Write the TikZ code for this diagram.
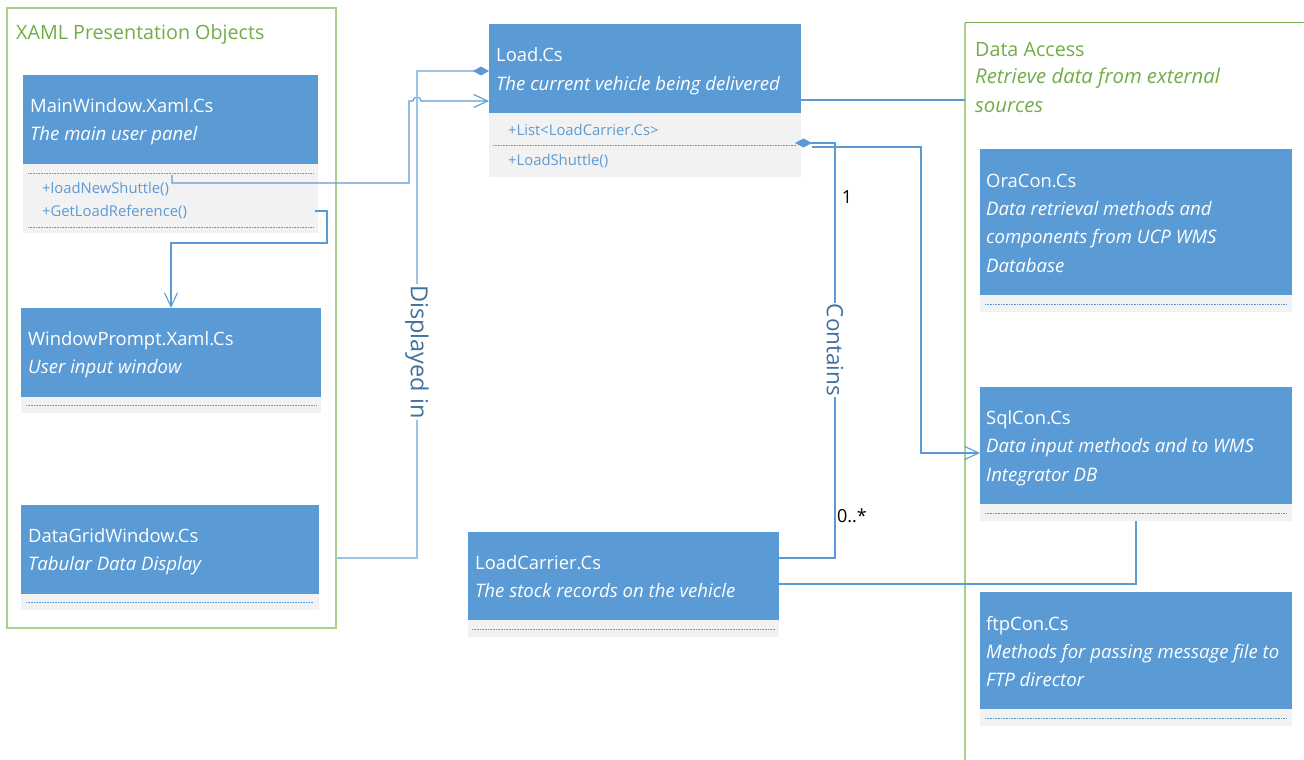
\documentclass[tikz,border=0pt]{standalone}
\usepackage{fontspec}
\setmainfont{Open Sans}
\usetikzlibrary{arrows.meta}
\definecolor{clsblue}{HTML}{5B9BD5}
\definecolor{cmpgray}{HTML}{F2F2F2}
\definecolor{grpgreen}{HTML}{70AD47}
\definecolor{grpline}{HTML}{A9D18E}
\definecolor{lnkblue}{HTML}{5B9BD5}
\definecolor{lnklight}{HTML}{9DC3E6}
\definecolor{lbldark}{HTML}{41719C}
\begin{document}
\begin{tikzpicture}[x=1pt,y=-1pt,
  hdr/.style={fill=clsblue, draw=none, anchor=north west, inner sep=0pt, outer sep=0pt},
  cmp/.style={fill=cmpgray, draw=none, anchor=north west, inner sep=0pt, outer sep=0pt},
  grp/.style={draw=none, anchor=north west, inner sep=0pt, outer sep=0pt},
  cname/.style={anchor=base west, inner sep=0pt, text=white, font=\fontsize{18.4}{22}\selectfont},
  cdesc/.style={anchor=base west, inner sep=0pt, text=white, font=\fontsize{18.6}{22}\selectfont\itshape},
  member/.style={anchor=base west, inner sep=0pt, text=lnkblue, font=\fontsize{14.8}{17}\selectfont},
  gname/.style={anchor=base west, inner sep=0pt, text=grpgreen, font=\fontsize{19.7}{22}\selectfont},
  gdesc/.style={anchor=base west, inner sep=0pt, text=grpgreen, font=\fontsize{20.3}{22}\selectfont\itshape},
  sep/.style={lnkblue, densely dotted, line width=0.6pt},
  link/.style={lnkblue, line width=1.1pt},
  linklight/.style={lnklight, line width=1.5pt},
  openhead/.style={-{Straight Barb[length=14pt,width=13pt]}},
  vlabel/.style={rotate=-90, fill=white, inner sep=1pt, text=lbldark},
  mult/.style={inner sep=0pt, text=black, font=\fontsize{18}{20}\selectfont}
]
\useasboundingbox (0,0) rectangle (1304,760);
\clip (0,0) rectangle (1304,760);

% ---------- group: XAML presentation objects ----------
\node[grp, minimum width=329pt, minimum height=620pt] (xaml) at (7,8) {};
\draw[grpline, line width=1.5pt] (xaml.north west) rectangle (xaml.south east);
\node[gname] (xaml-t) at (16,40) {XAML Presentation Objects};

% MainWindow
\node[hdr, minimum width=295pt, minimum height=89pt] (mw) at (23,75) {};
\node[cmp, minimum width=295pt, minimum height=69pt] (mwc) at (23,164) {};
\node[cname] (mw-n) at (30,112) {MainWindow.Xaml.Cs};
\node[cdesc] (mw-d) at (30,140) {The main user panel};
\draw[sep] (28,173) -- (314,173);
\node[member] (mw-m1) at (42,193) {+loadNewShuttle()};
\node[member] (mw-m2) at (42,216) {+GetLoadReference()};
\draw[sep] (28,227) -- (314,227);

% WindowPrompt
\node[hdr, minimum width=300pt, minimum height=89pt] (wp) at (21,308) {};
\node[cmp, minimum width=300pt, minimum height=16pt] (wpc) at (21,397) {};
\node[cname] (wp-n) at (28,345) {WindowPrompt.Xaml.Cs};
\node[cdesc] (wp-d) at (28,373) {User input window};
\draw[sep] (26,405) -- (316,405);

% DataGridWindow
\node[hdr, minimum width=298pt, minimum height=89pt] (dg) at (21,505) {};
\node[cmp, minimum width=298pt, minimum height=16pt] (dgc) at (21,594) {};
\node[cname] (dg-n) at (28,542) {DataGridWindow.Cs};
\node[cdesc] (dg-d) at (28,570) {Tabular Data Display};
\draw[sep] (26,602) -- (314,602);

% ---------- Load ----------
\node[hdr, minimum width=312pt, minimum height=89pt] (load) at (489,24) {};
\node[cmp, minimum width=312pt, minimum height=64pt] (loadc) at (489,113) {};
\node[cname] (load-n) at (496,62) {Load.Cs};
\node[cdesc] (load-d) at (496,90) {The current vehicle being delivered};
\node[member] (load-a) at (508,135) {+List<LoadCarrier.Cs>};
\draw[sep] (493,145) -- (797,145);
\node[member] (load-m) at (508,165) {+LoadShuttle()};

% ---------- LoadCarrier ----------
\node[hdr, minimum width=311pt, minimum height=88pt] (lc) at (468,532) {};
\node[cmp, minimum width=311pt, minimum height=17pt] (lcc) at (468,620) {};
\node[cname] (lc-n) at (475,569) {LoadCarrier.Cs};
\node[cdesc] (lc-d) at (475,597) {The stock records on the vehicle};
\draw[sep] (472,629) -- (775,629);

% ---------- group: data access ----------
\node[grp, minimum width=400pt, minimum height=800pt] (dacc) at (965,23) {};
\draw[grpgreen, line width=1pt] (dacc.north west) -- (dacc.north east);
\draw[grpline, line width=2pt] (dacc.north west) -- (dacc.south west);
\node[gname] (dacc-t) at (975,57) {Data Access};
\node[gdesc] (dacc-d1) at (975,84) {Retrieve data from external};
\node[gdesc] (dacc-d2) at (975,112) {sources};

% OraCon
\node[hdr, minimum width=312pt, minimum height=146pt] (ora) at (980,149) {};
\node[cmp, minimum width=312pt, minimum height=17pt] (orac) at (980,295) {};
\node[cname] (ora-n) at (986,187) {OraCon.Cs};
\node[cdesc] (ora-d1) at (986,215) {Data retrieval methods and};
\node[cdesc] (ora-d2) at (986,243) {components from UCP WMS};
\node[cdesc] (ora-d3) at (986,272) {Database};
\draw[sep] (985,304) -- (1287,304);

% SqlCon
\node[hdr, minimum width=312pt, minimum height=117pt] (sql) at (980,387) {};
\node[cmp, minimum width=312pt, minimum height=17pt] (sqlc) at (980,504) {};
\node[cname] (sql-n) at (986,424) {SqlCon.Cs};
\node[cdesc] (sql-d1) at (986,452) {Data input methods and to WMS};
\node[cdesc] (sql-d2) at (986,481) {Integrator DB};
\draw[sep] (985,513) -- (1287,513);

% ftpCon
\node[hdr, minimum width=312pt, minimum height=117pt] (ftp) at (980,592) {};
\node[cmp, minimum width=312pt, minimum height=17pt] (ftpc) at (980,709) {};
\node[cname] (ftp-n) at (986,630) {ftpCon.Cs};
\node[cdesc] (ftp-d1) at (986,658) {Methods for passing message file to};
\node[cdesc] (ftp-d2) at (986,686) {FTP director};
\draw[sep] (985,718) -- (1287,718);

% ---------- connectors ----------
% loadNewShuttle() calls Load (with a hop over the composition line)
\coordinate (ls-a) at (172,175);
\coordinate (ls-b) at (172,183);
\coordinate (ls-c) at (409,183);
\coordinate (ls-d) at (409,101);
\coordinate (ls-e) at (413,101);
\draw[link, openhead] (ls-a) -- (ls-b) -- (ls-c) -- (ls-d) -- (ls-e)
  arc[start angle=180, end angle=0, radius=4pt] -- (load.west |- ls-d);

% GetLoadReference() opens WindowPrompt
\coordinate (gr-a) at (315,211);
\coordinate (gr-b) at (327,211);
\coordinate (gr-c) at (327,243);
\draw[link, openhead] (gr-a) -- (gr-b) -- (gr-c) -- (wp.north |- gr-c) -- (wp.north);

% Load is displayed in the DataGrid window
\coordinate (di-a) at (417,71);
\coordinate (di-b) at (417,558);
\draw[linklight, {Diamond[length=16pt,width=9pt,color=lnkblue,fill=lnkblue]}-]
  (load.west |- di-a) -- (di-a) -- (di-b) -- (xaml.east |- di-b);
\node[vlabel, font=\fontsize{23.5}{26}\selectfont] (di-l) at (417,352) {Displayed in};

% Load uses the data access layer
\coordinate (da-a) at (801,100);
\draw[link] (da-a) -- (dacc.west |- da-a);

% Load contains LoadCarrier
\coordinate (ct-a) at (795,143);
\coordinate (ct-b) at (835,143);
\coordinate (ct-c) at (835,558);
\draw[link, {Diamond[length=17pt,width=9pt,fill=lnkblue]}-]
  (ct-a) -- (ct-b) -- (ct-c) -- (lc.east |- ct-c);
\node[vlabel, font=\fontsize{22.5}{26}\selectfont] (ct-l) at (835,350) {Contains};
\node[mult] (ct-1) at (847,197) {1};
\node[mult] (ct-n) at (852,516) {0..*};

% Load feeds SqlCon
\coordinate (sq-a) at (812,147);
\coordinate (sq-b) at (921,147);
\coordinate (sq-c) at (921,453);
\draw[link, openhead] (sq-a) -- (sq-b) -- (sq-c) -- (sql.west |- sq-c);

% LoadCarrier to SqlCon
\coordinate (lq-a) at (1136,584);
\draw[link] (lc.east |- lq-a) -- (lq-a) -- (sqlc.south -| lq-a);
\end{tikzpicture}
\end{document}
